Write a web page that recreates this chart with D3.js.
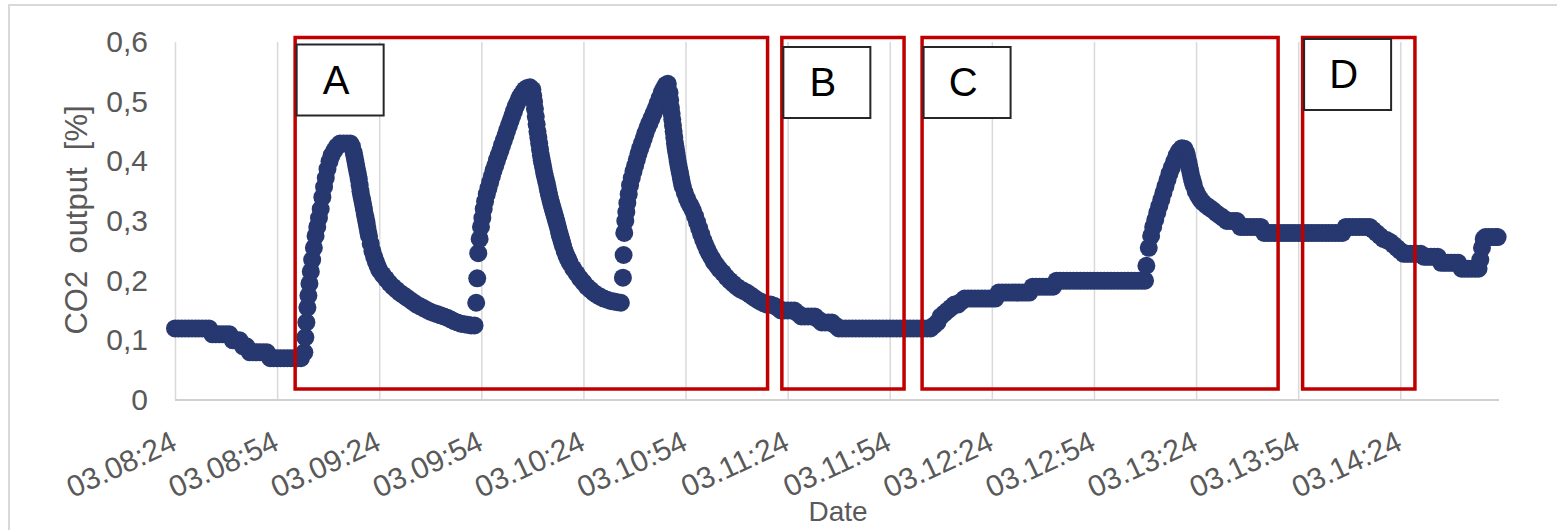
<!DOCTYPE html>
<html>
<head>
<meta charset="utf-8">
<script src="https://cdn.jsdelivr.net/npm/d3@7"></script>
<style>
  html, body { margin: 0; padding: 0; background: #fff; }
  svg { display: block; font-family: 'Liberation Sans', Arial, sans-serif; }
</style>
</head>
<body>
<svg id="chart"></svg>
<script>
// ---- Data (seconds from 03.08:24, CO2 output in %) ----
const samples = [
  [0,.12],[1,.12],[2,.12],[3,.12],[4,.12],[5,.12],[6,.12],[7,.12],[8,.12],[9,.12],[10,.12],
  [11,.11],[12,.11],[13,.11],[14,.11],[15,.11],[16,.11],[17,.10],[18,.10],[19,.10],[20,.09],
  [21,.09],[22,.08],[23,.08],[24,.08],[25,.08],[26,.08],[27,.08],[28,.07],[29,.07],[30,.07],
  [31,.07],[32,.07],[33,.07],[34,.07],[35,.07],[36,.07],[37,.07],
  // first peak
  [38,.08],[38.3,.105],[38.6,.13],[38.9,.155],[39.2,.175],[39.5,.195],[39.9,.215],[40.3,.235],
  [40.8,.255],[41.3,.275],[41.8,.29],[42.3,.305],[42.8,.32],[43.3,.34],[43.8,.357],[44.3,.372],
  [44.8,.387],[45.4,.40],[46,.41],[46.8,.418],[47.6,.425],[48.5,.43],[49.5,.43],[50.5,.43],[51.5,.43],
  [52,.425],[52.5,.415],[52.75,.408],[53,.40],[53.25,.392],[53.5,.385],[53.75,.378],[54,.37],
  [54.25,.36],[54.5,.35],[54.75,.342],[55,.335],[55.25,.328],[55.5,.32],[55.75,.312],[56,.305],
  [56.25,.298],[56.5,.29],[56.75,.282],[57,.275],[57.5,.262],[58,.25],[58.5,.24],[59,.232],[59.5,.225],
  [60,.218],[61,.21],
  [62,.203],[63,.196],[64,.19],[65,.185],[66,.18],[67,.176],[68,.172],[69,.168],[70,.164],[71,.16],
  [72,.157],[73,.154],[74,.151],[75,.148],[76,.146],[77,.144],[78,.142],[79,.14],[80,.138],[81,.135],
  [82,.132],[83,.13],[84,.128],[85,.127],[86,.126],[87,.125],[88,.125],
  // second peak
  [88.5,.163],[88.8,.204],[89.1,.246],[89.5,.27],[89.9,.29],[90.3,.305],[90.7,.32],[91.1,.333],
  [91.6,.345],[92.1,.355],[92.6,.365],[93.1,.375],[93.6,.385],[94.1,.393],[94.6,.402],[95.1,.41],
  [95.6,.418],[96.1,.427],[96.6,.435],[97.1,.443],[97.6,.452],[98.1,.46],[98.6,.468],[99.1,.476],
  [99.6,.484],[100.1,.492],[100.6,.498],[101.1,.505],[101.6,.51],[102.2,.515],[102.8,.52],[103.5,.523],
  [104.3,.524],[105,.52],
  [105.25,.51],[105.5,.50],[105.75,.488],[106,.475],[106.25,.462],[106.5,.45],[106.75,.44],[107,.43],
  [107.25,.42],[107.5,.41],[107.75,.402],[108,.395],[108.25,.388],[108.5,.38],[108.75,.374],[109,.368],
  [109.25,.362],[109.5,.355],[109.75,.348],[110,.342],[110.25,.336],[110.5,.33],[110.75,.325],[111,.32],
  [111.25,.315],[111.5,.31],[111.75,.305],[112,.30],[112.25,.295],[112.5,.29],[112.75,.284],[113,.278],
  [113.25,.273],[113.5,.268],[113.75,.263],[114,.258],[114.5,.25],[115,.242],[115.5,.236],[116,.23],
  [117,.22],[118,.212],
  [119,.204],[120,.197],[121,.19],[122,.185],[123,.18],[124,.176],[125,.173],[126,.17],[127,.168],
  [128,.166],[129,.165],[130,.164],[131,.163],
  // third peak
  [131.6,.205],[131.8,.243],[132,.28],[132.3,.30],[132.6,.315],[132.9,.33],[133.3,.345],[133.7,.36],
  [134.2,.372],[134.7,.383],[135.2,.393],[135.7,.403],[136.2,.413],[136.7,.422],[137.2,.43],[137.7,.438],
  [138.2,.447],[138.8,.456],[139.4,.464],[140,.472],[140.6,.48],[141.2,.488],[141.8,.497],[142.4,.506],
  [143,.515],[143.6,.522],[144.2,.528],[144.8,.53],
  [145.3,.515],[145.5,.503],[145.7,.49],[145.9,.48],[146.1,.47],[146.3,.46],[146.5,.45],[146.7,.44],
  [146.9,.43],[147.1,.422],[147.3,.415],[147.5,.408],[147.7,.40],[147.95,.392],[148.2,.385],
  [148.45,.378],[148.7,.37],[148.95,.363],[149.2,.357],[149.8,.347],[150.4,.338],[151,.33],
  [151.6,.324],[152.2,.317],[152.8,.308],
  [153.4,.298],[154,.288],[154.6,.278],[155.2,.268],[155.8,.26],[156.4,.252],[157,.245],[157.7,.238],
  [158.4,.231],[159.2,.225],[160,.219],[161,.213],[162,.206],[163,.20],[164,.195],[165,.19],[166,.186],
  [167,.183],[168,.18],[169,.176],[170,.172],[171,.168],[172,.165],[173,.162],[174,.16],[175,.16],
  [176,.158],[177,.155],[178,.15],[179,.15],[180,.15],[181,.15],[182,.15],[183,.145],[184,.14],
  [185,.14],[186,.14],[187,.14],[188,.14],[189,.135],[190,.13],[191,.13],[192,.13],[193,.13],[194,.125],
  // flat
  [195,.12],[196,.12],[197,.12],[198,.12],[199,.12],[200,.12],[201,.12],[202,.12],[203,.12],[204,.12],
  [205,.12],[206,.12],[207,.12],[208,.12],[209,.12],[210,.12],[211,.12],[212,.12],[213,.12],[214,.12],
  [215,.12],[216,.12],[217,.12],[218,.12],[219,.12],[220,.12],[221,.12],[222,.12],
  [223,.125],[224,.13],[225,.14],[226,.145],[227,.15],[228,.155],[229,.16],[230,.16],[231,.165],
  [232,.17],[233,.17],[234,.17],[235,.17],[236,.17],[237,.17],[238,.17],[239,.17],[240,.17],[241,.17],
  [242,.18],[243,.18],[244,.18],[245,.18],[246,.18],[247,.18],[248,.18],[249,.18],[250,.18],[251,.18],
  [252,.19],[253,.19],[254,.19],[255,.19],[256,.19],[257,.19],[258,.19],
  [259,.20],[260,.20],[261,.20],[262,.20],[263,.20],[264,.20],[265,.20],[266,.20],[267,.20],[268,.20],
  [269,.20],[270,.20],[271,.20],[272,.20],[273,.20],[274,.20],[275,.20],[276,.20],[277,.20],[278,.20],
  [279,.20],[280,.20],[281,.20],[282,.20],[283,.20],[284,.20],[285,.20],
  // fourth peak
  [285.4,.225],[286.1,.255],[286.8,.275],[287.4,.29],[288,.302],[288.6,.314],[289.2,.325],[289.8,.336],
  [290.4,.347],[291,.358],[291.6,.369],[292.2,.38],[292.9,.39],[293.6,.40],[294.3,.41],[295,.417],
  [295.8,.422],[296.6,.421],
  [297.05,.415],[297.3,.41],[297.55,.403],[297.8,.397],[298.05,.39],[298.3,.383],[298.55,.376],
  [298.8,.37],[299.05,.365],[299.3,.36],[299.9,.35],[300.6,.342],[301.3,.336],
  [302,.331],[303,.326],[304,.322],[305,.318],[306,.313],[307,.309],[308,.305],[309,.30],[310,.30],
  [311,.30],[312,.30],[313,.29],[314,.29],[315,.29],[316,.29],[317,.29],[318,.29],[319,.29],
  [320,.28],[321,.28],[322,.28],[323,.28],[324,.28],[325,.28],[326,.28],[327,.28],[328,.28],[329,.28],
  [330,.28],[331,.28],[332,.28],[333,.28],[334,.28],[335,.28],[336,.28],[337,.28],[338,.28],[339,.28],
  [340,.28],[341,.28],[342,.28],[343,.28],
  [344,.29],[345,.29],[346,.29],[347,.29],[348,.29],[349,.29],[350,.29],[351,.29],
  [352,.285],[353,.28],[354,.275],[355,.27],[356,.268],[357,.265],[358,.26],[359,.255],[360,.25],
  [361,.245],[362,.245],[363,.245],[364,.245],[365,.245],[366,.245],
  [367,.24],[368,.24],[369,.24],[370,.24],[371,.24],
  [372,.23],[373,.23],[374,.23],[375,.23],[376,.23],[377,.23],
  [378,.22],[379,.22],[380,.22],[381,.22],[382,.22],[383,.22],
  [383.5,.235],[384,.255],[384.5,.27],[385,.273],[386,.273],[387,.273],[388,.273],[388.6,.273]
];

const tickSeconds = [0, 30, 60, 90, 120, 150, 180, 210, 240, 270, 300, 330, 360];
const tickLabels = ['03.08:24', '03.08:54', '03.09:24', '03.09:54', '03.10:24', '03.10:54',
  '03.11:24', '03.11:54', '03.12:24', '03.12:54', '03.13:24', '03.13:54', '03.14:24'];
const yTicks = [0, 0.1, 0.2, 0.3, 0.4, 0.5, 0.6];
const yTickLabels = ['0', '0,1', '0,2', '0,3', '0,4', '0,5', '0,6'];

// annotated phases (start / end in seconds)
const phaseNames = ['A', 'B', 'C', 'D'];
const phaseStart = [35.3, 178.3, 219.5, 331.3];
const phaseEnd = [174.1, 214.2, 324.1, 364.3];

// ---- Layout ----
const W = 1557, H = 530;
const plot = { left: 175, right: 1499, top: 42, bottom: 400 };
const TEXT = '#595959';
const DOT = '#26386f';
const FONT = "'Liberation Sans', Arial, sans-serif";

const svg = d3.select('#chart').attr('width', W).attr('height', H);

// outer chart border
svg.append('rect')
  .attr('x', 9).attr('y', 5).attr('width', W).attr('height', H)
  .attr('fill', '#fff').attr('stroke', '#d9d9d9').attr('stroke-width', 2);

const x = d3.scaleLinear().domain([0, 389]).range([plot.left, plot.right]);
const y = d3.scaleLinear().domain([0, 0.6]).range([plot.bottom, plot.top]);

// vertical gridlines
const grid = svg.append('g')
  .attr('transform', `translate(0,${plot.bottom})`)
  .call(d3.axisBottom(x).tickValues(tickSeconds).tickFormat('').tickSize(-(plot.bottom - plot.top)));
grid.select('.domain').remove();
grid.selectAll('line').attr('stroke', '#d9d9d9').attr('stroke-width', 1.5);

// x axis line
svg.append('line')
  .attr('x1', x(0)).attr('x2', x(389))
  .attr('y1', plot.bottom).attr('y2', plot.bottom)
  .attr('stroke', '#d0d0d0').attr('stroke-width', 2);

// x tick labels, rotated
const xAxis = svg.append('g')
  .attr('transform', `translate(0,${plot.bottom})`)
  .call(d3.axisBottom(x).tickValues(tickSeconds).tickFormat((d, i) => tickLabels[i]).tickSize(0));
xAxis.select('.domain').remove();
xAxis.selectAll('text')
  .attr('x', 0).attr('y', 0).attr('dy', 0)
  .attr('text-anchor', 'end')
  .attr('transform', 'translate(3,49) rotate(-25)')
  .attr('fill', TEXT)
  .style('font-size', '30px')
  .style('font-family', FONT);

// y tick labels
const yAxis = svg.append('g')
  .attr('transform', `translate(${plot.left},0)`)
  .call(d3.axisLeft(y).tickValues(yTicks).tickFormat((d, i) => yTickLabels[i]).tickSize(0).tickPadding(27));
yAxis.select('.domain').remove();
yAxis.selectAll('text')
  .attr('fill', TEXT)
  .style('font-size', '30px')
  .style('font-family', FONT);

// axis titles
svg.append('text')
  .attr('transform', 'translate(87,220) rotate(-90)')
  .attr('text-anchor', 'middle')
  .attr('xml:space', 'preserve')
  .style('white-space', 'pre')
  .attr('fill', TEXT)
  .style('font-size', '31px')
  .text('CO2  output  [%]');

svg.append('text')
  .attr('x', 838).attr('y', 521)
  .attr('text-anchor', 'middle')
  .attr('fill', TEXT)
  .style('font-size', '28px')
  .text('Date');

// ---- Markers ----
svg.append('g')
  .selectAll('circle')
  .data(samples)
  .join('circle')
  .attr('cx', d => x(d[0]))
  .attr('cy', d => y(d[1]))
  .attr('r', 9)
  .attr('fill', DOT);

// ---- Phase boxes ----
const labelTop = { A: 44.5, B: 47, C: 47, D: 39 };
const phases = svg.append('g');
phaseNames.forEach((name, i) => {
  const x0 = x(phaseStart[i]), x1 = x(phaseEnd[i]);
  phases.append('rect')
    .attr('x', x0).attr('y', y(0.6) - 4.5)
    .attr('width', x1 - x0).attr('height', (y(0) - 11) - (y(0.6) - 4.5))
    .attr('fill', 'none').attr('stroke', '#c00000').attr('stroke-width', 3.5);
  phases.append('rect')
    .attr('x', x0 + 1.5).attr('y', labelTop[name])
    .attr('width', 87).attr('height', 71)
    .attr('fill', '#fff').attr('stroke', '#262626').attr('stroke-width', 2);
  phases.append('text')
    .attr('x', x0 + 1.5 + 39.5).attr('y', labelTop[name] + 49)
    .attr('text-anchor', 'middle')
    .attr('fill', '#000')
    .style('font-size', '40px')
    .text(name);
});
</script>
</body>
</html>
